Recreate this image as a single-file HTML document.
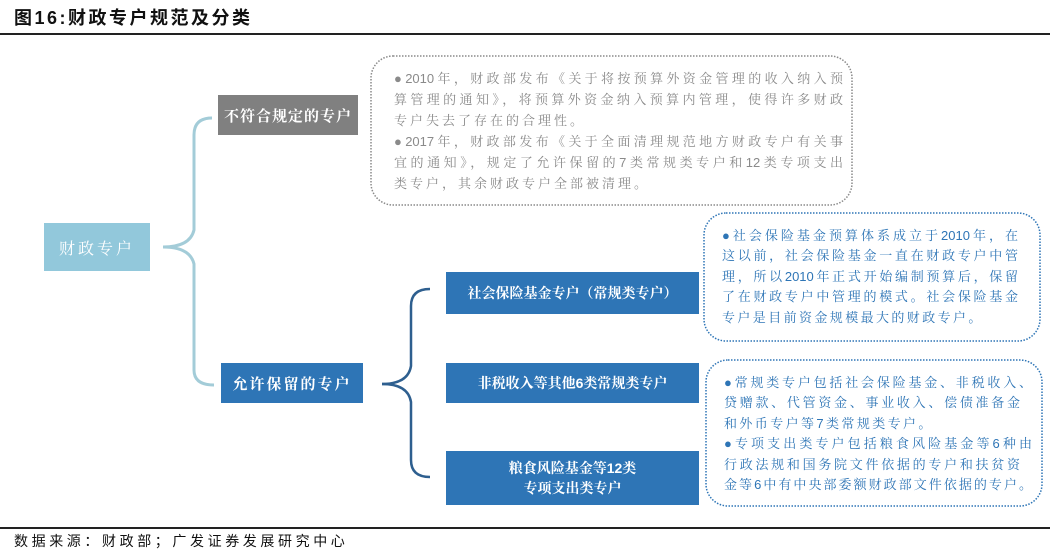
<!DOCTYPE html>
<html><head><meta charset="utf-8"><style>
body{margin:0;width:1062px;height:558px;background:#fff;position:relative;overflow:hidden;font-family:"Liberation Sans","Noto Serif CJK SC","Noto Sans CJK SC",serif;}
.a{position:absolute;}
.box{position:absolute;display:flex;align-items:center;justify-content:center;color:#fff;font-weight:bold;text-align:center;}
.t{position:absolute;font-size:13px;}
.t div{white-space:nowrap;text-align:justify;text-align-last:justify;}
.t div.s{text-align-last:left;}
</style></head><body>
<div class="a" style="left:14px;top:4px;font-size:18px;font-weight:bold;font-family:'Liberation Sans','Noto Sans CJK SC',sans-serif;color:#111;letter-spacing:2.5px">图16:财政专户规范及分类</div>
<div class="a" style="left:0;top:33px;width:1050px;height:2px;background:#222"></div>
<div class="a" style="left:0;top:527px;width:1050px;height:1.5px;background:#222"></div>
<div class="a" style="left:14px;top:531px;font-size:14px;color:#111;font-family:'Liberation Sans','Noto Sans CJK SC',sans-serif;letter-spacing:3.6px">数据来源：财政部；广发证券发展研究中心</div>

<svg class="a" style="left:0;top:0" width="1062" height="558">
<path d="M163 247 Q190 247 194 230 L194 135 Q194 118 212 118" fill="none" stroke="#a3ccd8" stroke-width="3"/>
<path d="M163 247 Q190 247 194 264 L194 370 Q194 385 214 385" fill="none" stroke="#a3ccd8" stroke-width="3"/>
<path d="M382 384 Q408 384 411 366 L411 306 Q411 289 430 289" fill="none" stroke="#2e5f8f" stroke-width="2.5"/>
<path d="M382 384 Q408 384 411 402 L411 460 Q411 477 430 477" fill="none" stroke="#2e5f8f" stroke-width="2.5"/>
<rect x="371" y="56" width="481" height="149" rx="22" fill="none" stroke="#8a8a8a" stroke-width="1.5" stroke-dasharray="1.5 1.5"/>
<rect x="704" y="213" width="336" height="128" rx="22" fill="none" stroke="#2e75b6" stroke-width="1.5" stroke-dasharray="1.5 1.5"/>
<rect x="706" y="360" width="336" height="146" rx="22" fill="none" stroke="#2e75b6" stroke-width="1.5" stroke-dasharray="1.5 1.5"/>
</svg>

<div class="box" style="left:44px;top:223px;width:106px;height:48px;background:#92c8db;font-size:16px;letter-spacing:3px;font-weight:normal">财政专户</div>
<div class="box" style="left:218px;top:95px;width:140px;height:40px;background:#808080;font-size:15px;letter-spacing:1px">不符合规定的专户</div>
<div class="box" style="left:221px;top:363px;width:142px;height:40px;background:#2e75b6;font-size:15px;letter-spacing:2px">允许保留的专户</div>
<div class="box" style="left:446px;top:272px;width:253px;height:42px;background:#2e75b6;font-size:14px">社会保险基金专户（常规类专户）</div>
<div class="box" style="left:446px;top:363px;width:253px;height:40px;background:#2e75b6;font-size:14px">非税收入等其他6类常规类专户</div>
<div class="box" style="left:446px;top:451px;width:253px;height:54px;background:#2e75b6;font-size:14px;line-height:20px">粮食风险基金等12类<br>专项支出类专户</div>

<div class="t" style="left:394px;top:68px;width:449px;line-height:21px;color:#8a8a8a">
<div>●2010年，财政部发布《关于将按预算外资金管理的收入纳入预</div>
<div>算管理的通知》，将预算外资金纳入预算内管理，使得许多财政</div>
<div class="s" style="letter-spacing:3px">专户失去了存在的合理性。</div>
<div>●2017年，财政部发布《关于全面清理规范地方财政专户有关事</div>
<div>宜的通知》，规定了允许保留的7类常规类专户和12类专项支出</div>
<div class="s" style="letter-spacing:3px">类专户，其余财政专户全部被清理。</div>
</div>
<div class="t" style="left:722px;top:226px;width:296px;line-height:20.4px;color:#2e75b6">
<div>●社会保险基金预算体系成立于2010年，在</div>
<div>这以前，社会保险基金一直在财政专户中管</div>
<div>理，所以2010年正式开始编制预算后，保留</div>
<div>了在财政专户中管理的模式。社会保险基金</div>
<div class="s" style="letter-spacing:2.4px">专户是目前资金规模最大的财政专户。</div>
</div>
<div class="t" style="left:724px;top:373px;width:308px;line-height:20.4px;color:#2e75b6">
<div>●常规类专户包括社会保险基金、非税收入、</div>
<div style="width:296px">贷赠款、代管资金、事业收入、偿债准备金</div>
<div class="s" style="letter-spacing:2.4px">和外币专户等7类常规类专户。</div>
<div>●专项支出类专户包括粮食风险基金等6种由</div>
<div style="width:296px">行政法规和国务院文件依据的专户和扶贫资</div>
<div>金等6中有中央部委额财政部文件依据的专户。</div>
</div>
</body></html>
